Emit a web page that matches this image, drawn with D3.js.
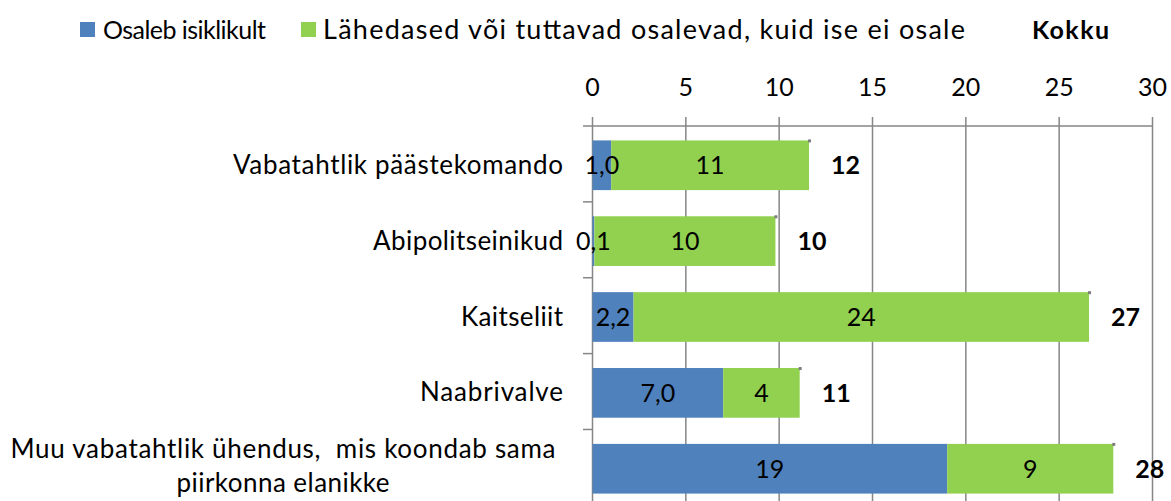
<!DOCTYPE html>
<meta charset="utf-8">
<script src="https://d3js.org/d3.v7.min.js"></script>
<style>
  body { margin: 0; background: #fff; }
  text { font-family: Lato, "Noto Sans", sans-serif; fill: #000; }
</style>
<body>
<svg width="1171" height="501"></svg>
<script>
var categories = ["Vabatahtlik päästekomando", "Abipolitseinikud", "Kaitseliit", "Naabrivalve",
                  "Muu vabatahtlik ühendus,  mis koondab sama|piirkonna elanikke"];
var personal = [1.0, 0.1, 2.2, 7.0, 19.0];
var relatives = [10.6, 9.7, 24.4, 4.1, 8.9];
var seriesNames = ["Osaleb isiklikult", "Lähedased või tuttavad osalevad, kuid ise ei osale"];
var totalName = "Kokku";
var ticks = [0, 5, 10, 15, 20, 25, 30];
var colors = ["#4F81BD", "#92D050"];

// measured label widths in the picture (Calibri is wider than the fallback)
var catWidths = [330, 190, 102, 143, [545, 213]];
var legendWidths = [163, 642];

var svg = d3.select('svg');
var fs = 25;

var x = d3.scaleLinear().domain([0, 30]).range([592.5, 1152.5]);
var y = d3.scaleBand().domain(d3.range(categories.length)).range([126, 508]).paddingInner(0.345).paddingOuter(0.19);

// gridlines
svg.append('g').selectAll('line').data(ticks).enter().append('line')
    .attr('x1', function(d){ return x(d); }).attr('x2', function(d){ return x(d); })
    .attr('y1', 117).attr('y2', 501)
    .attr('stroke', '#868686').attr('stroke-width', 1.5);

// top axis line
svg.append('line').attr('x1', x(0)).attr('x2', x(30)).attr('y1', 126).attr('y2', 126)
    .attr('stroke', '#868686').attr('stroke-width', 1.5);

// tick labels
svg.append('g').selectAll('text').data(ticks).enter().append('text')
    .attr('x', function(d){ return x(d); }).attr('y', 96)
    .attr('text-anchor', 'middle').attr('font-size', fs)
    .text(function(d){ return d; });

// category ticks on the left axis
var catEdges = d3.range(categories.length).map(function(i){ return 126 + i * y.step(); });
svg.append('g').selectAll('line').data(catEdges).enter().append('line')
    .attr('x1', 583).attr('x2', x(0)).attr('y1', function(d){ return d; }).attr('y2', function(d){ return d; })
    .attr('stroke', '#868686').attr('stroke-width', 1.5);

// bars
var rows = categories.map(function(c, i){
  return { i: i, segs: [
    { s: 0, x0: 0, x1: personal[i], v: personal[i] },
    { s: 1, x0: personal[i], x1: personal[i] + relatives[i], v: relatives[i] }
  ], total: personal[i] + relatives[i] };
});

var g = svg.append('g');
rows.forEach(function(r){
  g.selectAll(null).data(r.segs).enter().append('rect')
    .attr('x', function(d){ return x(d.x0); })
    .attr('width', function(d){ return x(d.x1) - x(d.x0); })
    .attr('y', y(r.i)).attr('height', y.bandwidth())
    .attr('fill', function(d){ return colors[d.s]; });

  // little shadow dot at the bar's top right corner
  g.append('rect').attr('x', x(r.total) - 1).attr('y', y(r.i) - 1).attr('width', 3).attr('height', 3)
    .attr('fill', '#7f7f7f');

  g.selectAll(null).data(r.segs).enter().append('text')
    .attr('x', function(d){ return (x(d.x0) + x(d.x1)) / 2; })
    .attr('y', y(r.i) + y.bandwidth() / 2)
    .attr('dy', '0.36em').attr('text-anchor', 'middle').attr('font-size', fs)
    .text(function(d){
      if (d.s === 0 && d.v < 10) return d3.format('.1f')(d.v).replace('.', ',');
      return d3.format('.0f')(d.v);
    });

  g.append('text')
    .attr('x', x(r.total) + 22).attr('y', y(r.i) + y.bandwidth() / 2)
    .attr('dy', '0.36em').attr('font-size', fs).attr('font-weight', 'bold')
    .text(d3.format('.0f')(r.total));
});

// category labels
categories.forEach(function(c, i){
  var lines = c.split('|');
  var cy = y(i) + y.bandwidth() / 2;
  if (lines.length === 1) {
    svg.append('text').attr('x', 563).attr('y', cy).attr('dy', '0.33em')
      .attr('text-anchor', 'end').attr('font-size', 26)
      .attr('textLength', catWidths[i]).attr('lengthAdjust', 'spacing').text(c);
  } else {
    lines.forEach(function(l, k){
      svg.append('text').attr('x', 283).attr('y', 458 + k * 34)
        .attr('text-anchor', 'middle').attr('font-size', 26)
        .attr('xml:space', 'preserve')
        .attr('textLength', catWidths[i][k]).attr('lengthAdjust', 'spacing').text(l);
    });
  }
});

// legend
var legend = [
  { sq: 80, tx: 103, label: seriesNames[0], c: colors[0], w: legendWidths[0], fs: 25 },
  { sq: 301, tx: 323, label: seriesNames[1], c: colors[1], w: legendWidths[1], fs: 27 }
];
legend.forEach(function(l){
  svg.append('rect').attr('x', l.sq).attr('y', 22).attr('width', 15).attr('height', 15).attr('fill', l.c);
  svg.append('text').attr('x', l.tx).attr('y', 39).attr('font-size', l.fs)
    .attr('textLength', l.w).attr('lengthAdjust', 'spacing').text(l.label);
});
svg.append('text').attr('x', 1032).attr('y', 39).attr('font-size', fs).attr('font-weight', 'bold')
  .attr('textLength', 77).attr('lengthAdjust', 'spacing').text(totalName);
</script>
